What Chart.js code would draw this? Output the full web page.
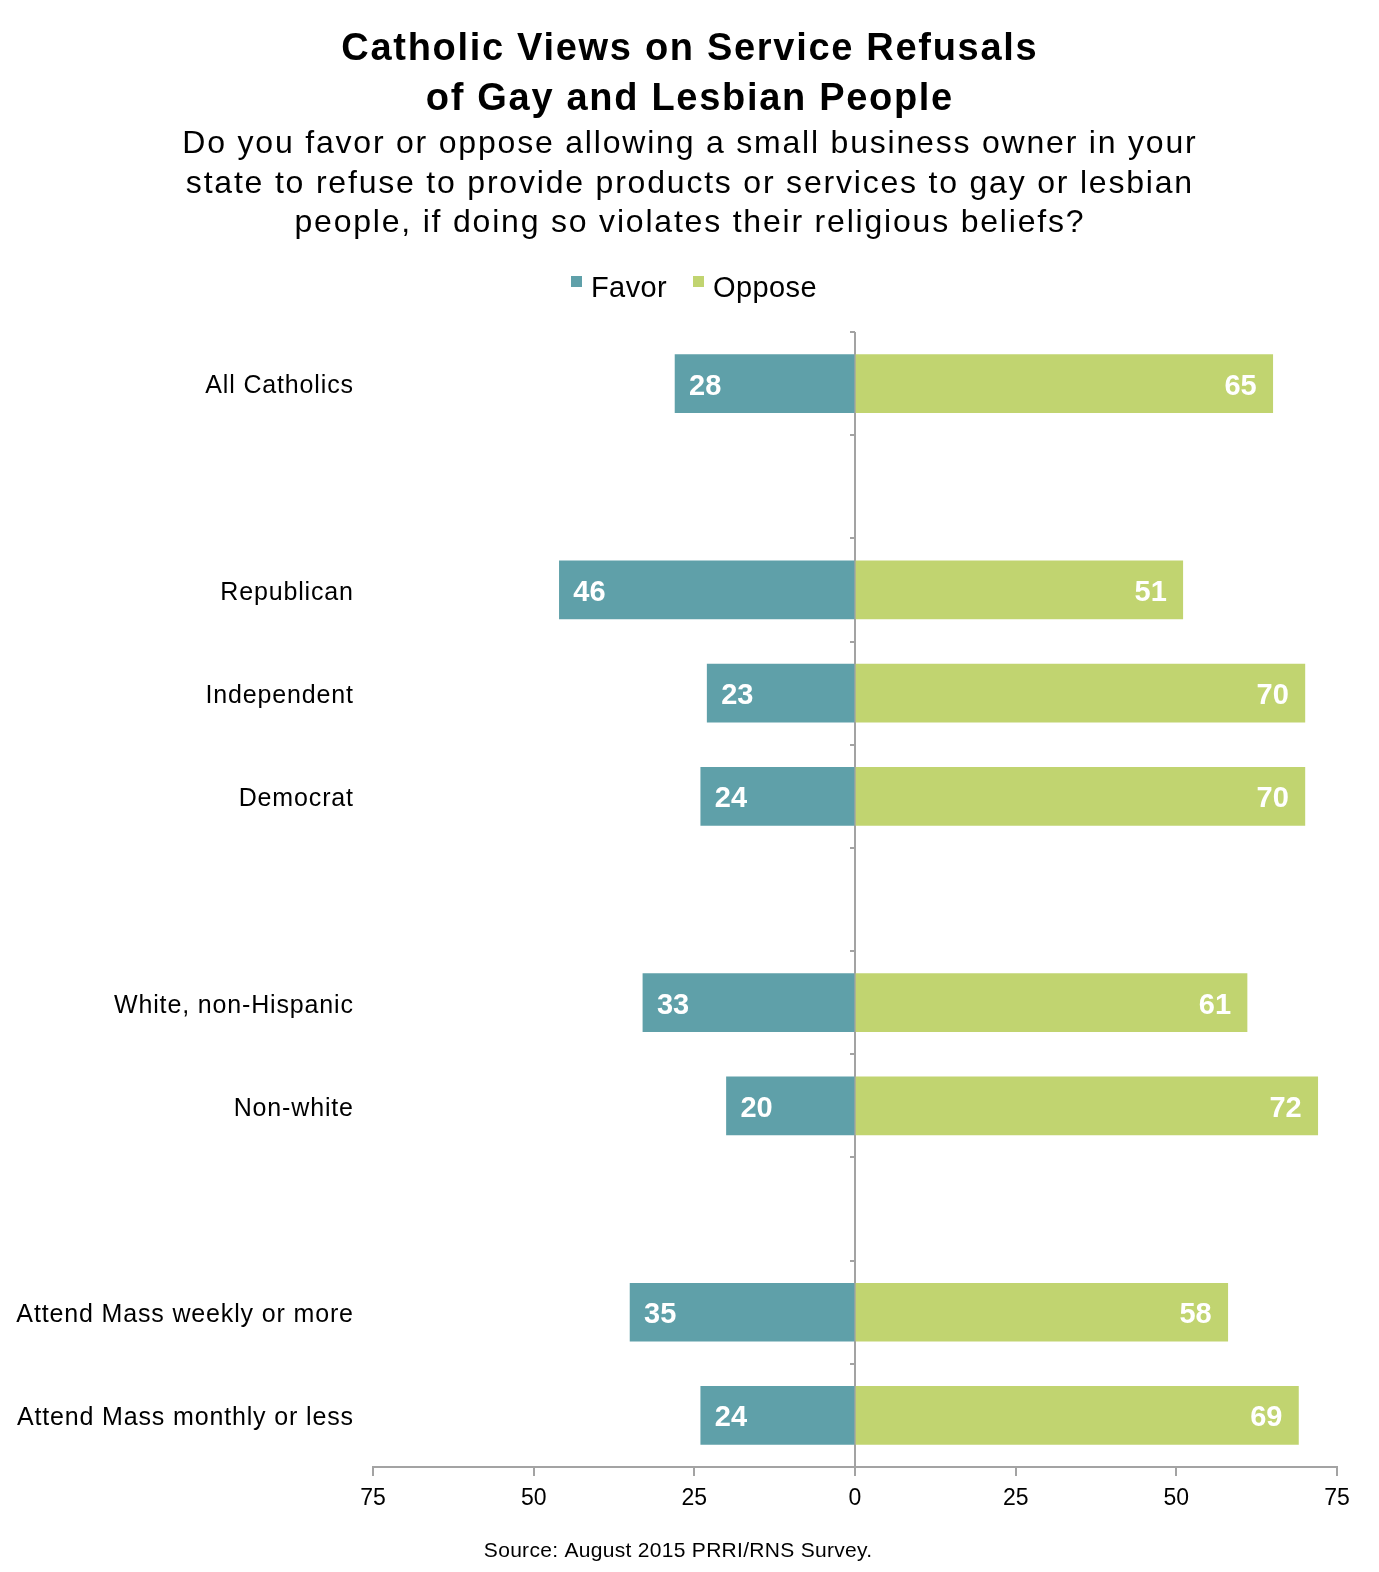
<!DOCTYPE html>
<html>
<head>
<meta charset="utf-8">
<script src="https://cdn.jsdelivr.net/npm/chart.js@4.4.0/dist/chart.umd.min.js"></script>
<style>
  html, body { margin: 0; padding: 0; background: #fff; }
  #wrap { width: 1379px; height: 1572px; position: relative; }
</style>
</head>
<body>
<div id="wrap"><canvas id="c" width="1379" height="1572"></canvas></div>
<script>
const categories = ['All Catholics', '', 'Republican', 'Independent', 'Democrat', '', 'White, non-Hispanic', 'Non-white', '', 'Attend Mass weekly or more', 'Attend Mass monthly or less'];
const favorValues = [28, null, 46, 23, 24, null, 33, 20, null, 35, 24];
const opposeValues = [65, null, 51, 70, 70, null, 61, 72, null, 58, 69];
const seriesNames = ['Favor', 'Oppose'];
const xTicks = [-75, -50, -25, 0, 25, 50, 75];

const titleLines = ['Catholic Views on Service Refusals', 'of Gay and Lesbian People'];
const subtitleLines = ['Do you favor or oppose allowing a small business owner in your', 'state to refuse to provide products or services to gay or lesbian', 'people, if doing so violates their religious beliefs?'];
const sourceText = 'Source: August 2015 PRRI/RNS Survey.';

const FAVOR = '#5fa0a9';
const OPPOSE = '#c1d470';
const AXIS = '#a3a3a3';
const FONT = '"Liberation Sans", Arial, Helvetica, sans-serif';

function spaced(ctx, text, x, y, spacing) {
  ctx.letterSpacing = spacing + 'px';
  let dx = 0;
  if (ctx.textAlign === 'center') dx = spacing / 2;
  else if (ctx.textAlign === 'right') dx = spacing;
  ctx.fillText(text, x + dx, y);
  ctx.letterSpacing = '0px';
}

const textPlugin = {
  id: 'texts',
  afterDraw(chart) {
    const ctx = chart.ctx;
    const cx = 689;
    const xs = chart.scales.x, ys = chart.scales.y;
    ctx.save();
    ctx.fillStyle = '#000';
    ctx.textAlign = 'center';
    ctx.textBaseline = 'alphabetic';
    ctx.font = 'bold 38px ' + FONT;
    titleLines.forEach((t, i) => spaced(ctx, t, cx, 60 + i * 50, 1.7));
    ctx.font = '32px ' + FONT;
    subtitleLines.forEach((t, i) => spaced(ctx, t, cx, 153 + i * 39.5, 1.8));
    // legend
    ctx.font = '29px ' + FONT;
    ctx.textAlign = 'left';
    const legendX = [571, 693];
    chart.data.datasets.forEach((ds, i) => {
      ctx.fillStyle = ds.backgroundColor;
      ctx.fillRect(legendX[i], 276, 11, 11);
      ctx.fillStyle = '#000';
      spaced(ctx, ds.label, legendX[i] + 20, 297, 0.4);
    });
    // source
    ctx.textAlign = 'center';
    ctx.font = '21px ' + FONT;
    spaced(ctx, sourceText, 678, 1557, 0.3);

    // category labels
    ctx.textAlign = 'right';
    ctx.textBaseline = 'middle';
    ctx.font = '25px ' + FONT;
    chart.data.labels.forEach((lab, i) => {
      if (!lab) return;
      spaced(ctx, lab, chart.chartArea.left - 20, ys.getPixelForValue(i) + 3, 0.85);
    });

    // value labels
    ctx.fillStyle = '#fff';
    ctx.font = 'bold 29px ' + FONT;
    chart.data.datasets.forEach((ds, di) => {
      const meta = chart.getDatasetMeta(di);
      meta.data.forEach((bar, i) => {
        const v = ds.data[i];
        if (v == null) return;
        const left = Math.min(bar.x, bar.base);
        const right = Math.max(bar.x, bar.base);
        if (di === 0) {
          ctx.textAlign = 'left';
          ctx.fillText(String(Math.abs(v)), left + 14, bar.y + 3);
        } else {
          ctx.textAlign = 'right';
          ctx.fillText(String(Math.abs(v)), right - 16, bar.y + 3);
        }
      });
    });

    // small tick marks on zero line at category boundaries
    const x0 = xs.getPixelForValue(0);
    ctx.strokeStyle = AXIS;
    ctx.lineWidth = 2;
    for (let i = 0; i <= categories.length - 1; i++) {
      const y = Math.round(ys.getPixelForValue(i - 0.5));
      ctx.beginPath();
      ctx.moveTo(x0 - 5, y);
      ctx.lineTo(x0, y);
      ctx.stroke();
    }
    ctx.restore();
  }
};

new Chart(document.getElementById('c'), {
  type: 'bar',
  data: {
    labels: categories,
    datasets: [
      { label: seriesNames[0], data: favorValues.map(v => v == null ? null : -v), backgroundColor: FAVOR, barThickness: 58 },
      { label: seriesNames[1], data: opposeValues, backgroundColor: OPPOSE, barThickness: 58 }
    ]
  },
  options: {
    indexAxis: 'y',
    responsive: false,
    animation: false,
    devicePixelRatio: 1,
    layout: { padding: { left: 0, right: 42, top: 332, bottom: 0 } },
    plugins: {
      legend: { display: false },
      title: { display: false },
      tooltip: { enabled: false }
    },
    scales: {
      x: {
        stacked: true,
        min: -75, max: 75,
        afterBuildTicks(scale) { scale.ticks = xTicks.map(v => ({ value: v })); },
        afterFit(scale) { scale.height = 105; },
        border: { display: true, color: AXIS, width: 2 },
        grid: {
          drawOnChartArea: true,
          color: ctx => (ctx.tick && ctx.tick.value === 0) ? AXIS : 'rgba(0,0,0,0)',
          lineWidth: 2,
          tickColor: AXIS,
          tickLength: 9,
          drawTicks: true
        },
        ticks: {
          padding: 9,
          color: '#000',
          font: { family: FONT, size: 23 },
          callback: v => String(Math.abs(v))
        }
      },
      y: {
        stacked: true,
        afterFit(scale) { scale.width = 373; },
        border: { display: false },
        grid: { display: false, drawTicks: false },
        ticks: { display: false, autoSkip: false }
      }
    }
  },
  plugins: [textPlugin]
});
</script>
</body>
</html>
